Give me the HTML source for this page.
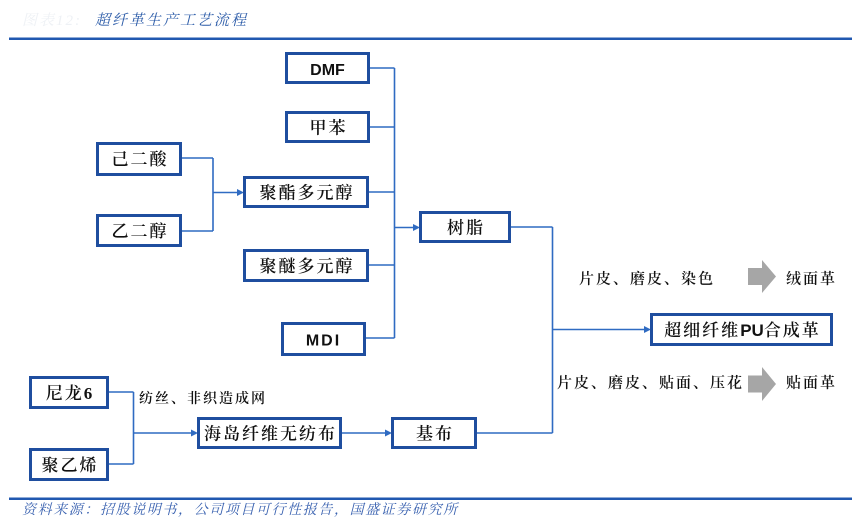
<!DOCTYPE html>
<html><head><meta charset="utf-8">
<style>
html,body{margin:0;padding:0;background:#fff;}
body{width:864px;height:529px;overflow:hidden;position:relative;}
svg{position:absolute;left:0;top:0;}
.bx{fill:#fff;stroke:#1f4e9f;stroke-width:3;}
.ln{stroke:#2f6bc2;stroke-width:1.6;fill:none;}
.ah{fill:#2f6bc2;}
.t{font-family:"Liberation Serif","Noto Serif CJK SC",serif;font-size:17px;font-weight:600;fill:#111;letter-spacing:2px;}
.s{font-family:"Liberation Sans","Noto Sans CJK SC",sans-serif;font-size:16px;font-weight:700;fill:#111;}
.l{font-family:"Liberation Serif","Noto Serif CJK SC",serif;font-size:15px;font-weight:600;fill:#111;letter-spacing:2px;}
.title{font-family:"Liberation Serif","Noto Serif CJK SC",serif;font-size:15px;font-style:italic;fill:#2b5ba8;letter-spacing:2px;}
.src{font-family:"Liberation Serif","Noto Serif CJK SC",serif;font-size:14px;font-style:italic;fill:#3a62b0;letter-spacing:1.6px;}
</style></head>
<body>
<svg width="864" height="529" viewBox="0 0 864 529" xmlns="http://www.w3.org/2000/svg">
<!-- header -->
<text x="22" y="25" class="title" style="fill:#eef1f5">图表12:</text>
<text x="95" y="25" class="title">超纤革生产工艺流程</text>
<rect x="9" y="37.5" width="843" height="2.5" fill="#2158b0"/>
<!-- footer -->
<rect x="9" y="497.5" width="843" height="2.5" fill="#2158b0"/>
<text x="22" y="514" class="src">资料来源：招股说明书，公司项目可行性报告，国盛证券研究所</text>

<!-- connectors: right group -->
<path class="ln" d="M370 68H394.5M370 127H394.5M369 192H394.5M369 265H394.5M366 338H394.5M394.5 68V338M394.5 227.5H414"/>
<polygon class="ah" points="413,224 420,227.5 413,231"/>
<!-- left group -->
<path class="ln" d="M182 158H213M182 231H213M213 158V231M213 192.5H238"/>
<polygon class="ah" points="237,189 244,192.5 237,196"/>
<!-- resin to product -->
<path class="ln" d="M511 227H552.5M477 433H552.5M552.5 227V433M552.5 329.5H645"/>
<polygon class="ah" points="644,326 651,329.5 644,333"/>
<!-- bottom group -->
<path class="ln" d="M109 392H133.5M109 464H133.5M133.5 392V464M133.5 433H192"/>
<polygon class="ah" points="191,429.5 198,433 191,436.5"/>
<path class="ln" d="M342 433H386"/>
<polygon class="ah" points="385,429.5 392,433 385,436.5"/>

<!-- boxes -->
<rect class="bx" x="286.5" y="53.5" width="82" height="29"/>
<text class="s" x="327.5" y="75" text-anchor="middle">DMF</text>

<rect class="bx" x="286.5" y="112.5" width="82" height="29"/>
<text class="t" x="328.5" y="133.5" text-anchor="middle">甲苯</text>

<rect class="bx" x="97.5" y="143.5" width="83" height="31"/>
<text class="t" x="140" y="165" text-anchor="middle">己二酸</text>

<rect class="bx" x="97.5" y="215.5" width="83" height="30"/>
<text class="t" x="140" y="237" text-anchor="middle">乙二醇</text>

<rect class="bx" x="244.5" y="177.5" width="123" height="29"/>
<text class="t" x="307" y="198.5" text-anchor="middle">聚酯多元醇</text>

<rect class="bx" x="244.5" y="250.5" width="123" height="30"/>
<text class="t" x="307" y="272" text-anchor="middle">聚醚多元醇</text>

<rect class="bx" x="282.5" y="323.5" width="82" height="31"/>
<text class="s" x="323.5" y="345.5" text-anchor="middle" style="letter-spacing:2px">MDI</text>

<rect class="bx" x="420.5" y="212.5" width="89" height="29"/>
<text class="t" x="466" y="233.5" text-anchor="middle">树脂</text>

<rect class="bx" x="651.5" y="314.5" width="180" height="30"/>
<text class="t" x="742.5" y="336" text-anchor="middle">超细纤维<tspan style="font-family:'Liberation Sans',sans-serif;font-weight:700;letter-spacing:0">PU</tspan>合成革</text>

<rect class="bx" x="30.5" y="377.5" width="77" height="30"/>
<text class="t" x="70" y="399" text-anchor="middle">尼龙6</text>

<rect class="bx" x="30.5" y="449.5" width="77" height="30"/>
<text class="t" x="70" y="471" text-anchor="middle">聚乙烯</text>

<rect class="bx" x="198.5" y="418.5" width="142" height="29"/>
<text class="t" x="270.5" y="439.5" text-anchor="middle">海岛纤维无纺布</text>

<rect class="bx" x="392.5" y="418.5" width="83" height="29"/>
<text class="t" x="435" y="439.5" text-anchor="middle">基布</text>

<!-- labels -->
<text class="l" x="579" y="283.5">片皮、磨皮、染色</text>
<text class="l" x="557" y="387.5">片皮、磨皮、贴面、压花</text>
<text class="l" x="786" y="283.5">绒面革</text>
<text class="l" x="786" y="387.5">贴面革</text>
<text class="l" x="139" y="403" style="font-size:14px">纺丝、非织造成网</text>

<!-- gray block arrows -->
<polygon fill="#a6a6a6" points="748,268 762,268 762,260 776,276.5 762,293 762,285 748,285"/>
<polygon fill="#a6a6a6" points="748,375.5 762,375.5 762,367 776,384 762,401 762,392.5 748,392.5"/>
</svg>
</body></html>
